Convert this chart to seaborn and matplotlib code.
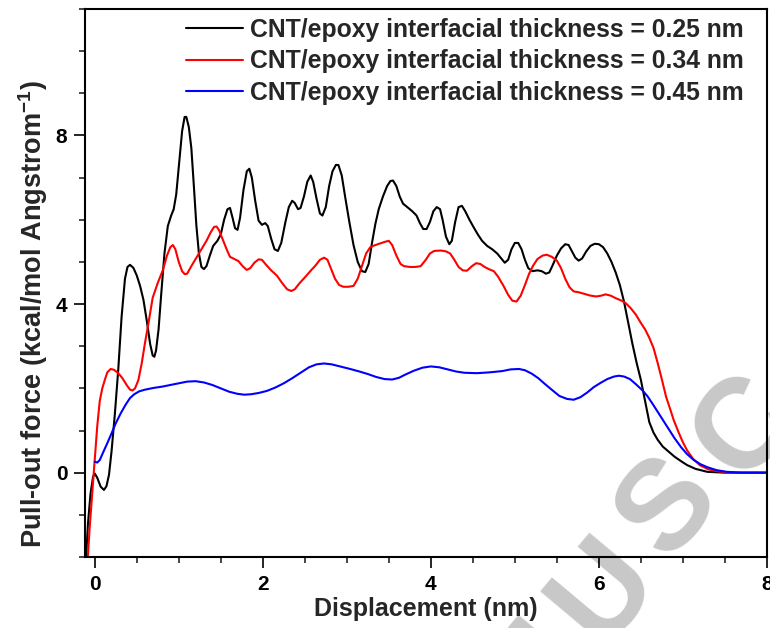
import matplotlib
matplotlib.use("Agg")
import matplotlib.pyplot as plt
import numpy as np
import pandas as pd
import seaborn as sns
from matplotlib.ticker import MultipleLocator

# Pull-out force vs displacement for three CNT/epoxy interfacial thicknesses
disp_025 = [-0.105, -0.08, -0.05, -0.02, 0.0, 0.03, 0.07, 0.11, 0.14, 0.17, 0.20, 0.24,
            0.28, 0.32, 0.36, 0.39, 0.42, 0.46, 0.50, 0.54, 0.58, 0.62, 0.66, 0.69,
            0.71, 0.73, 0.76, 0.79, 0.83, 0.87, 0.91, 0.94, 0.97, 1.01, 1.04, 1.07,
            1.09, 1.12, 1.15, 1.18, 1.21, 1.24, 1.27, 1.30, 1.33, 1.37, 1.41, 1.46,
            1.50, 1.54, 1.58, 1.61, 1.64, 1.67, 1.70, 1.73, 1.77, 1.81, 1.84, 1.87,
            1.91, 1.95, 1.99, 2.03, 2.06, 2.10, 2.14, 2.18, 2.22, 2.27, 2.31, 2.35,
            2.38, 2.42, 2.45, 2.49, 2.53, 2.57, 2.60, 2.64, 2.68, 2.71, 2.75, 2.79,
            2.83, 2.87, 2.90, 2.94, 2.98, 3.03, 3.08, 3.13, 3.18, 3.22, 3.26, 3.30,
            3.34, 3.38, 3.43, 3.48, 3.52, 3.55, 3.59, 3.63, 3.67, 3.72, 3.78, 3.83,
            3.87, 3.91, 3.95, 3.99, 4.03, 4.07, 4.11, 4.14, 4.18, 4.22, 4.25, 4.29,
            4.33, 4.37, 4.41, 4.46, 4.51, 4.56, 4.61, 4.67, 4.73, 4.79, 4.84, 4.88,
            4.92, 4.96, 5.00, 5.04, 5.08, 5.12, 5.16, 5.21, 5.27, 5.32, 5.37, 5.41,
            5.45, 5.50, 5.55, 5.60, 5.64, 5.68, 5.72, 5.76, 5.80, 5.85, 5.90, 5.95,
            6.00, 6.05, 6.10, 6.15, 6.20, 6.25, 6.30, 6.35, 6.40, 6.45, 6.50, 6.55,
            6.60, 6.65, 6.70, 6.76, 6.83, 6.90, 6.98, 7.05, 7.15, 7.29, 7.50, 8.00]
force_025 = [-2.1, -1.2, -0.5, -0.1, -0.02, -0.12, -0.33, -0.41, -0.32, -0.05, 0.5, 1.4,
             2.44, 3.7, 4.6, 4.88, 4.93, 4.86, 4.68, 4.43, 4.1, 3.6, 3.05, 2.78,
             2.75, 2.9, 3.4, 4.2, 5.2, 5.85, 6.1, 6.25, 6.6, 7.45, 8.1, 8.44,
             8.44, 8.2, 7.7, 6.8, 5.86, 5.2, 4.88, 4.83, 4.9, 5.15, 5.38, 5.5,
             5.65, 6.0, 6.25, 6.28, 6.05, 5.8, 5.76, 6.05, 6.7, 7.15, 7.21, 7.0,
             6.45, 5.98, 5.88, 5.92, 5.85, 5.55, 5.3, 5.26, 5.45, 5.95, 6.3, 6.45,
             6.4, 6.25, 6.28, 6.55, 6.9, 7.05, 6.9, 6.5, 6.15, 6.10, 6.3, 6.8,
             7.15, 7.3, 7.3, 7.05, 6.55, 5.95, 5.4, 5.0, 4.78, 4.76, 4.95, 5.45,
             5.9, 6.25, 6.55, 6.8, 6.92, 6.93, 6.8, 6.55, 6.38, 6.3, 6.2, 6.1,
             5.92, 5.78, 5.78, 5.95, 6.2, 6.3, 6.25, 6.0, 5.6, 5.42, 5.5, 5.95,
             6.3, 6.33, 6.2, 6.0, 5.82, 5.65, 5.5, 5.38, 5.3, 5.2, 5.08, 4.98,
             5.05, 5.3, 5.45, 5.45, 5.3, 5.05, 4.85, 4.78, 4.8, 4.78, 4.72, 4.75,
             4.92, 5.15, 5.32, 5.42, 5.4, 5.25, 5.1, 5.03, 5.08, 5.25, 5.38, 5.43,
             5.42, 5.35, 5.2, 5.0, 4.75, 4.45, 4.05, 3.55, 3.05, 2.6, 2.2, 1.7,
             1.2, 0.95, 0.78, 0.62, 0.5, 0.38, 0.27, 0.18, 0.09, 0.02, 0.0, 0.0]

disp_034 = [-0.085, -0.06, -0.03, 0.0, 0.03, 0.06, 0.09, 0.12, 0.15, 0.19, 0.23, 0.28,
            0.33, 0.38, 0.42, 0.45, 0.48, 0.52, 0.56, 0.60, 0.64, 0.69, 0.75, 0.81,
            0.86, 0.90, 0.93, 0.96, 1.00, 1.04, 1.07, 1.10, 1.15, 1.21, 1.27, 1.33,
            1.38, 1.42, 1.45, 1.48, 1.52, 1.57, 1.61, 1.66, 1.71, 1.76, 1.81, 1.85,
            1.90, 1.95, 1.99, 2.04, 2.10, 2.17, 2.23, 2.29, 2.34, 2.38, 2.44, 2.50,
            2.57, 2.63, 2.68, 2.73, 2.77, 2.81, 2.86, 2.91, 2.96, 3.02, 3.08, 3.13,
            3.18, 3.23, 3.28, 3.34, 3.40, 3.46, 3.50, 3.54, 3.59, 3.64, 3.68, 3.75,
            3.82, 3.88, 3.94, 3.99, 4.04, 4.12, 4.18, 4.23, 4.28, 4.33, 4.38, 4.43,
            4.49, 4.54, 4.59, 4.64, 4.70, 4.75, 4.80, 4.86, 4.92, 4.97, 5.02, 5.07,
            5.12, 5.17, 5.22, 5.27, 5.33, 5.38, 5.44, 5.50, 5.55, 5.60, 5.65, 5.70,
            5.76, 5.83, 5.90, 5.97, 6.03, 6.08, 6.14, 6.20, 6.27, 6.32, 6.38, 6.44,
            6.50, 6.55, 6.60, 6.65, 6.70, 6.75, 6.80, 6.85, 6.89, 6.95, 7.00, 7.05,
            7.12, 7.20, 7.30, 7.42, 7.60, 8.00]
force_034 = [-2.1, -1.3, -0.5, 0.3, 1.1, 1.7, 2.0, 2.2, 2.38, 2.46, 2.44, 2.36,
             2.24, 2.08, 1.97, 1.95, 2.0, 2.2, 2.6, 3.1, 3.55, 4.15, 4.5, 4.8,
             5.15, 5.35, 5.40, 5.3, 5.0, 4.78, 4.71, 4.72, 4.9, 5.1, 5.30, 5.5,
             5.7, 5.83, 5.84, 5.75, 5.55, 5.30, 5.12, 5.07, 5.02, 4.9, 4.81, 4.85,
             4.98, 5.06, 5.05, 4.93, 4.8, 4.67, 4.5, 4.35, 4.31, 4.35, 4.5, 4.63,
             4.79, 4.92, 5.05, 5.10, 5.05, 4.85, 4.6, 4.45, 4.41, 4.41, 4.43, 4.6,
             4.9, 5.2, 5.35, 5.4, 5.44, 5.48, 5.5, 5.4, 5.15, 4.95, 4.9, 4.88,
             4.88, 4.90, 5.05, 5.2, 5.26, 5.27, 5.25, 5.2, 5.05, 4.88, 4.8, 4.79,
             4.9, 4.97, 4.95, 4.88, 4.82, 4.78, 4.65, 4.45, 4.22, 4.08, 4.06, 4.2,
             4.45, 4.72, 4.92, 5.07, 5.15, 5.17, 5.12, 5.03, 4.85, 4.6, 4.4, 4.3,
             4.28, 4.24, 4.2, 4.18, 4.2, 4.23, 4.2, 4.14, 4.08, 4.02, 3.9, 3.75,
             3.55, 3.4, 3.2, 2.96, 2.6, 2.21, 1.8, 1.5, 1.25, 0.95, 0.72, 0.53,
             0.33, 0.18, 0.08, 0.03, 0.0, 0.0]

disp_045 = [0.0, 0.03, 0.06, 0.10, 0.15, 0.20, 0.25, 0.31, 0.37, 0.42, 0.47, 0.53,
            0.60, 0.70, 0.80, 0.90, 1.00, 1.10, 1.20, 1.30, 1.40, 1.50, 1.60, 1.70,
            1.78, 1.86, 1.95, 2.05, 2.15, 2.25, 2.35, 2.45, 2.55, 2.64, 2.73, 2.82,
            2.92, 3.04, 3.15, 3.25, 3.35, 3.45, 3.54, 3.62, 3.70, 3.80, 3.90, 4.00,
            4.10, 4.20, 4.30, 4.40, 4.55, 4.70, 4.85, 4.95, 5.05, 5.12, 5.20, 5.28,
            5.36, 5.45, 5.53, 5.62, 5.70, 5.78, 5.86, 5.94, 6.02, 6.10, 6.18, 6.24,
            6.30, 6.37, 6.44, 6.52, 6.58, 6.65, 6.73, 6.81, 6.90, 6.98, 7.05, 7.13,
            7.21, 7.29, 7.40, 7.52, 7.70, 8.00]
force_045 = [0.26, 0.24, 0.3, 0.48, 0.70, 0.93, 1.17, 1.41, 1.62, 1.77, 1.86, 1.93,
             1.97, 2.01, 2.04, 2.08, 2.12, 2.16, 2.17, 2.14, 2.08, 2.0, 1.92, 1.87,
             1.85, 1.86, 1.89, 1.94, 2.02, 2.12, 2.24, 2.37, 2.5, 2.57, 2.59, 2.57,
             2.52, 2.46, 2.4, 2.34, 2.27, 2.22, 2.21, 2.25, 2.33, 2.42, 2.49, 2.52,
             2.5, 2.45, 2.4, 2.37, 2.36, 2.38, 2.41, 2.45, 2.46, 2.43, 2.35, 2.24,
             2.1, 1.95, 1.82, 1.75, 1.73, 1.79, 1.9, 2.03, 2.13, 2.22, 2.28, 2.30,
             2.28, 2.22, 2.1, 1.95, 1.81, 1.6, 1.35, 1.10, 0.82, 0.6, 0.44, 0.3,
             0.2, 0.13, 0.06, 0.02, 0.0, 0.0]

labels = ["CNT/epoxy interfacial thickness = 0.25 nm",
          "CNT/epoxy interfacial thickness = 0.34 nm",
          "CNT/epoxy interfacial thickness = 0.45 nm"]
colors = ["#000000", "#ff0000", "#0000ff"]

frames = []
for lab, xs, ys in zip(labels, [disp_025, disp_034, disp_045],
                       [force_025, force_034, force_045]):
    frames.append(pd.DataFrame({"Displacement": xs, "Force": ys, "series": lab}))
df = pd.concat(frames, ignore_index=True)

sns.set_theme(style="ticks")
plt.rcParams["font.family"] = ["Liberation Sans", "DejaVu Sans"]
plt.rcParams["font.weight"] = "bold"
plt.rcParams["mathtext.fontset"] = "custom"
plt.rcParams["mathtext.rm"] = "Liberation Sans:bold"
plt.rcParams["mathtext.bf"] = "Liberation Sans:bold"
plt.rcParams["mathtext.default"] = "bf"

fig = plt.figure(figsize=(7.7, 6.28), dpi=100)
ax = fig.add_axes([0.1110, 0.1131, 0.8850, 0.8726])
ax.patch.set_alpha(0)

# faint diagonal watermark behind the axes
wm_letters = ["N", "U", "S", "C"]
wm_pos = [(0.693, -0.070), (0.786, 0.058), (0.870, 0.190), (0.970, 0.318)]
for ch, (fx, fy) in zip(wm_letters, wm_pos):
    fig.text(fx, fy, ch, rotation=50, ha="center", va="center",
             rotation_mode="anchor", fontsize=92, fontweight="bold",
             color="#c8c8c8", zorder=-5)

sns.lineplot(data=df, x="Displacement", y="Force", hue="series",
             palette=colors, sort=False, estimator=None, linewidth=1.5, ax=ax)
for ln in ax.get_lines():
    ln.set_solid_joinstyle("round")

ax.set_xlim(-0.11, 8)
ax.set_ylim(-2, 11)
ax.xaxis.set_major_locator(MultipleLocator(2))
ax.xaxis.set_minor_locator(MultipleLocator(0.5))
ax.yaxis.set_major_locator(MultipleLocator(4))
ax.yaxis.set_minor_locator(MultipleLocator(1))
ax.tick_params(which="major", direction="out", length=8, width=1.2,
               labelsize=15, colors="black", pad=5, top=False, right=False)
ax.tick_params(which="minor", direction="out", length=4.5, width=1.2,
               top=False, right=False)
for lbl in ax.get_xticklabels() + ax.get_yticklabels():
    lbl.set_fontweight("bold")
for sp in ax.spines.values():
    sp.set_visible(True)
    sp.set_linewidth(1.5)
    sp.set_color("black")

ax.set_xlabel("Displacement (nm)", fontsize=18, fontweight="bold", labelpad=2)
ax.set_ylabel(r"Pull-out force (kcal/mol Angstrom$^{-1}$)", fontsize=19.5,
              fontweight="bold")
ax.yaxis.set_label_coords(-0.052, 0.443)

leg = ax.legend(loc="upper right", bbox_to_anchor=(0.966, 0.984),
                frameon=False, fontsize=17.8, handlelength=2.28,
                handletextpad=0.3, labelspacing=0.31, borderpad=0,
                borderaxespad=0, title=None)
for t in leg.get_texts():
    t.set_fontweight("bold")
for h in leg.get_lines():
    h.set_linewidth(1.5)

fig.savefig("out.png", dpi=100)
